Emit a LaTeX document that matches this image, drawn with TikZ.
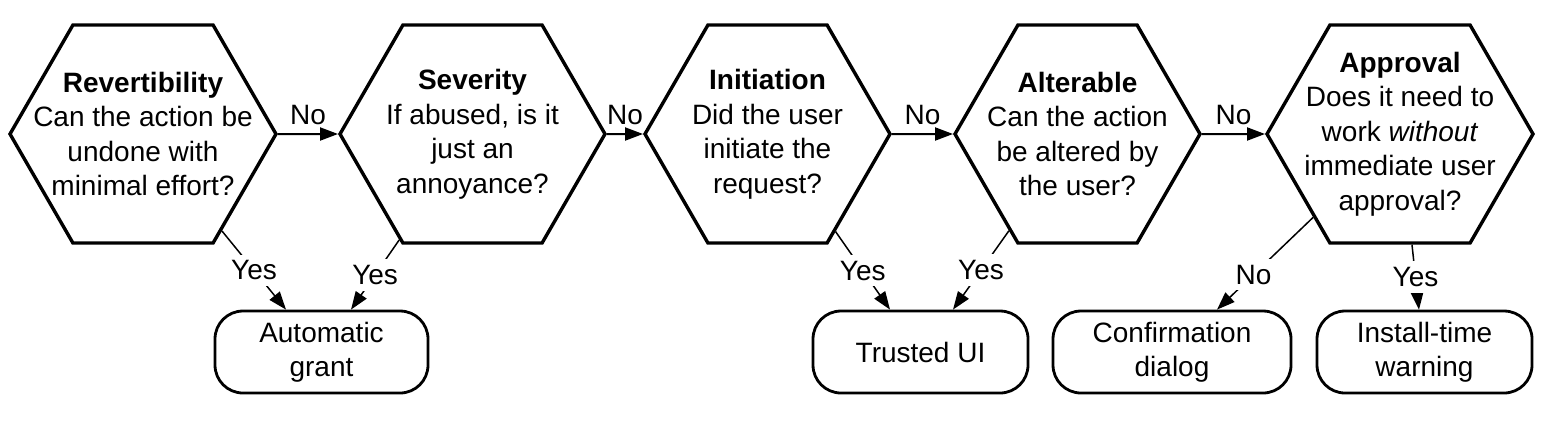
\documentclass[tikz,border=0pt]{standalone}
\usepackage{fontspec}
\setmainfont{Liberation Sans}
\usetikzlibrary {arrows.meta, positioning, shapes.symbols}

\begin{document}
\begin{tikzpicture}[
    ->,
    >={Triangle[length=9pt, width=6.5pt]},
    on grid,
    font=\fontsize{14pt}{17.25pt}\selectfont,
    question/.style={signal, signal to=east and west, signal pointer angle=120,
        draw, line width=1.7pt, inner xsep=-30pt, minimum height=109pt, align=center},
    outcome/.style={rectangle, rounded corners=14pt, draw, line width=1.4pt,
        minimum height=41pt, align=center},
    noline/.style={line width=1pt},
    yesline/.style={line width=0.75pt},
    lbl/.style={fill=white, inner sep=3pt},
]

    \useasboundingbox (0,0) rectangle (775.5pt,-210pt);

    \node[question, minimum width=133pt]                      (R) at (71.5pt,-67pt)
        {\textbf{Revertibility}\\Can the action be\\undone with\\minimal effort?};
    \node[question, minimum width=132.5pt, right=164.75pt of R] (S)
        {\textbf{Severity}\\If abused, is it\\just an\\annoyance?};
    \node[question, minimum width=122.5pt, right=147.5pt of S]  (I)
        {\textbf{Initiation}\\Did the user\\initiate the\\request?};
    \node[question, minimum width=122.5pt, right=155pt of I]    (A)
        {\textbf{Alterable}\\Can the action\\be altered by\\the user?};
    \node[question, minimum width=133pt, right=161.25pt of A]   (P)
        {\textbf{Approval}\\Does it need to\\work \textit{without}\\immediate user\\approval?};

    \node[outcome, minimum width=106.5pt, below right=109pt and 89.25pt of R] (G) {Automatic\\grant};
    \node[outcome, minimum width=107.5pt, below right=109pt and 76.5pt of I]  (T) {Trusted UI};
    \node[outcome, minimum width=119pt,   below left=109pt and 114pt of P]    (C) {Confirmation\\dialog};
    \node[outcome, minimum width=107.5pt, below right=109pt and 12.25pt of P] (W) {Install-time\\warning};

    \path

        (R) edge [noline]  node [above=1pt]      {No}  (S)
        (S) edge [noline]  node [above=1pt]      {No}  (I)
        (I) edge [noline]  node [above=1pt]      {No}  (A)
        (A) edge [noline]  node [above=1pt]      {No}  (P)
        (R) edge [yesline] node [lbl]            {Yes} ([xshift=-17.75pt]G.north)
        (S) edge [yesline] node [lbl]            {Yes} ([xshift=14.75pt]G.north)
        (I) edge [yesline] node [lbl]            {Yes} ([xshift=-15.25pt]T.north)
        (A) edge [yesline] node [lbl]            {Yes} ([xshift=16.25pt]T.north)
        (P) edge [yesline] node [lbl, pos=0.62]  {No}  ([xshift=22.5pt]C.north)
        (P) edge [yesline] node [lbl]            {Yes} ([xshift=-2.75pt]W.north)
    ;
\end{tikzpicture}
\end{document}
